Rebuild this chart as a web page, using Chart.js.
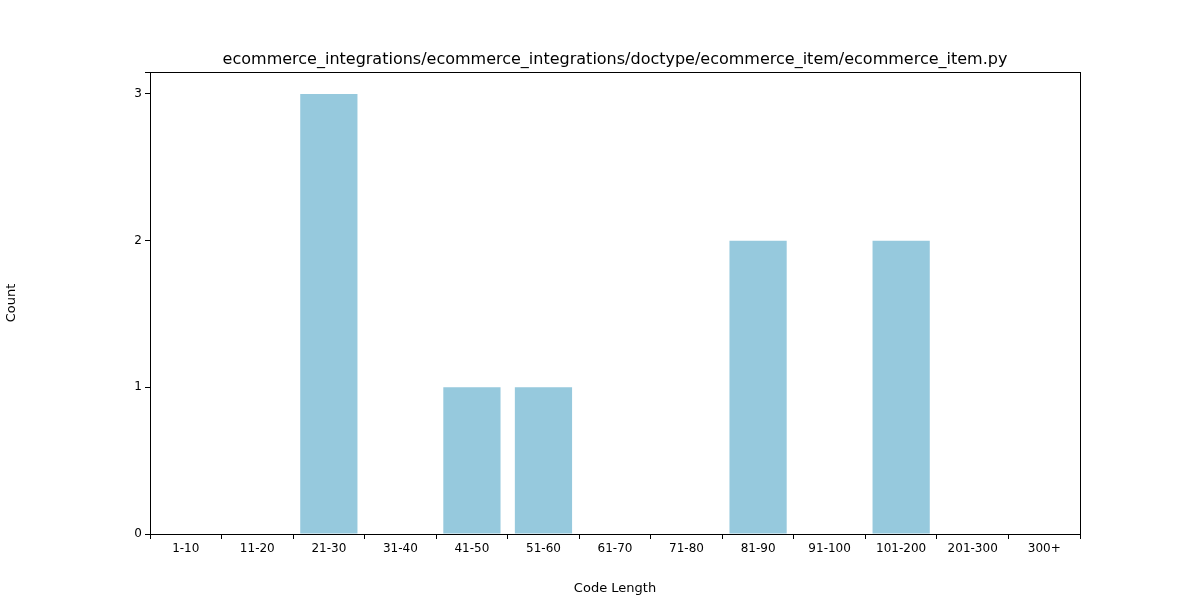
<!DOCTYPE html>
<html><head><script src="https://cdn.jsdelivr.net/npm/chart.js@4"></script>
<style>body{margin:0}#w{width:1200px;height:600px}</style></head>
<body><div id="w"><canvas id="c"></canvas></div>
<script>
const categories=["1-10","11-20","21-30","31-40","41-50","51-60","61-70","71-80","81-90","91-100","101-200","201-300","300+"];
const counts=[0,0,3,0,1,1,0,0,2,0,2,0,0];
const titleText="ecommerce_integrations/ecommerce_integrations/doctype/ecommerce_item/ecommerce_item.py";
const F="DejaVu Sans";
const deco={id:'deco',afterDraw(ch){const c=ch.ctx,a=ch.chartArea;c.save();c.strokeStyle='#000';c.lineWidth=1;
c.strokeRect(a.left+0.5,a.top+0.5,a.right-a.left,a.bottom-a.top);
c.fillStyle='#000';c.font='16px "'+F+'"';c.textAlign='center';c.textBaseline='alphabetic';
c.fillText(titleText,(a.left+a.right)/2,64);c.restore();}};
new Chart(document.getElementById('c'),{type:'bar',
data:{labels:categories,datasets:[{data:counts,backgroundColor:'rgb(150,201,221)',barPercentage:0.8,categoryPercentage:1}]},
options:{responsive:true,maintainAspectRatio:false,animation:false,
layout:{padding:{top:72,right:120,left:0,bottom:0}},
plugins:{legend:{display:false},tooltip:{enabled:false}},
scales:{
x:{offset:true,grid:{drawOnChartArea:false,tickLength:5,color:'#000'},border:{color:'#000'},
ticks:{color:'#000',font:{family:F,size:12},maxRotation:0,autoSkip:false},
title:{display:true,text:'Code Length',color:'#000',font:{family:F,size:13},padding:{top:2}},
afterFit(s){s.height=66;}},
y:{min:0,max:3.15,grid:{drawOnChartArea:false,tickLength:5,color:'#000'},border:{color:'#000'},
ticks:{stepSize:1,color:'#000',font:{family:F,size:12},callback:v=>Number.isInteger(v)?v:''},
title:{display:true,text:'Count',color:'#000',font:{family:F,size:13}},
afterFit(s){s.width=150;}}}},
plugins:[deco]});
</script></body></html>
